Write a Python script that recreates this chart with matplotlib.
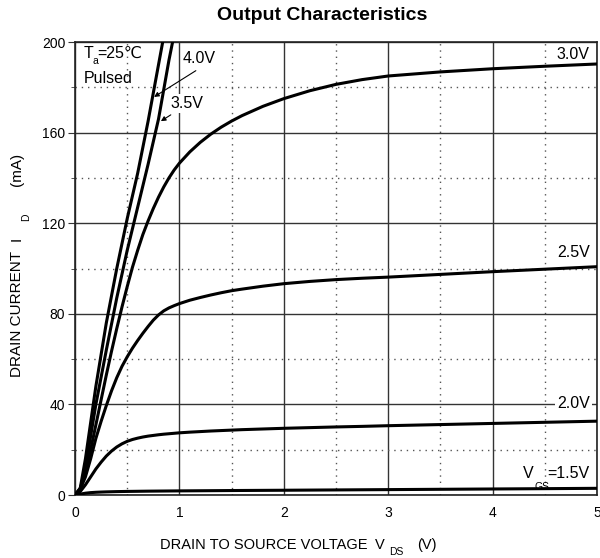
import matplotlib
matplotlib.use("Agg")
import matplotlib.pyplot as plt
from matplotlib.ticker import MultipleLocator

plt.rcParams['font.family'] = ['Liberation Sans', 'DejaVu Sans']

# drain-source voltage sample points (V)
vds = [0, 0.05, 0.1, 0.15, 0.2, 0.25, 0.3, 0.35, 0.4, 0.45, 0.5, 0.55, 0.6,
       0.65, 0.7, 0.75, 0.8, 0.85, 0.9, 0.95, 1.0, 1.1, 1.2, 1.3, 1.4, 1.5,
       1.6, 1.8, 2.0, 2.25, 2.5, 2.75, 3.0, 3.5, 4.0, 4.5, 5.0]
# drain current (mA) per gate voltage
id_15 = [0, 0.4, 0.8, 1.05, 1.2, 1.3, 1.38, 1.44, 1.5, 1.54, 1.58, 1.61, 1.64,
         1.67, 1.7, 1.72, 1.74, 1.76, 1.78, 1.8, 1.82, 1.85, 1.88, 1.91, 1.94, 1.97,
         2.0, 2.05, 2.1, 2.17, 2.24, 2.31, 2.38, 2.52, 2.66, 2.8, 2.95]
id_20 = [0, 1.5, 4.5, 8, 11.5, 14.5, 17.2, 19.4, 21.2, 22.6, 23.7, 24.5, 25.1,
         25.6, 26, 26.3, 26.6, 26.85, 27.05, 27.25, 27.45, 27.75, 28.0, 28.25, 28.45, 28.65,
         28.85, 29.15, 29.45, 29.75, 30.05, 30.3, 30.6, 31.1, 31.6, 32.1, 32.6]
id_25 = [0, 2.5, 8, 16, 25, 32.5, 39.5, 46, 51.8, 56.8, 61, 64.8, 68.2,
         71.4, 74.4, 77.2, 79.5, 81.3, 82.6, 83.6, 84.5, 86, 87.2, 88.3, 89.3, 90.2,
         90.9, 92.2, 93.3, 94.3, 95.1, 95.7, 96.2, 97.4, 98.6, 99.7, 100.8]
id_30 = [0, 3, 10, 20, 31, 42, 53, 63.5, 73.5, 83, 92, 100.5, 108,
         115, 121, 126.5, 131.5, 136, 140, 143.5, 146.5, 151.5, 155.7, 159.3, 162.4, 165.1,
         167.5, 171.6, 175.0, 178.5, 181.3, 183.4, 185.0, 186.8, 188.2, 189.3, 190.3]
# steep curves only need their lower part
vds_hi = [0, 0.05, 0.1, 0.15, 0.2, 0.25, 0.3, 0.4, 0.5, 0.6, 0.7, 0.8, 0.9, 1.0]
id_35 = [0, 2, 12, 26, 40, 52, 64, 87, 108, 127, 146, 166, 192, 215]
id_40 = [0, 3, 16, 32, 48, 62, 76, 100, 122, 142, 165, 190, 215, 240]

x_ticks = [0, 1, 2, 3, 4, 5]
y_ticks = [0, 40, 80, 120, 160, 200]

fig = plt.figure(figsize=(6, 5.58), dpi=100)
ax = fig.add_axes([0.125, 0.1129, 0.87, 0.8118])

ax.set_xlim(0, 5)
ax.set_ylim(0, 200)
ax.set_xticks(x_ticks)
ax.set_yticks(y_ticks)
ax.xaxis.set_minor_locator(MultipleLocator(0.5))
ax.yaxis.set_minor_locator(MultipleLocator(20))
ax.tick_params(axis='both', which='both', labelsize=10, color='#333333')
ax.tick_params(axis='x', which='both', length=0, pad=8)
ax.tick_params(axis='y', which='major', length=5, direction='out', pad=2)
ax.tick_params(axis='y', which='minor', length=3, direction='out')

ax.grid(which='major', color='#333333', lw=1.0)
ax.grid(which='minor', color='#555555', lw=1.0, ls=(0, (1, 3.5)))
ax.set_axisbelow(True)
for sp in ax.spines.values():
    sp.set_linewidth(1.2)
    sp.set_color('#222222')

for vx, iy in [(vds, id_15), (vds, id_20), (vds, id_25), (vds, id_30),
               (vds_hi, id_35), (vds_hi, id_40)]:
    ax.plot(vx, iy, color='black', lw=2.2, solid_joinstyle='round', zorder=3)

lbl = dict(fontsize=11.5, zorder=4)
wbox = dict(facecolor='white', edgecolor='none', pad=1.5)
ax.text(4.93, 194.5, '3.0V', ha='right', va='center', **lbl)
ax.text(4.93, 107, '2.5V', ha='right', va='center', **lbl)
ax.text(4.93, 40.6, '2.0V', ha='right', va='center', bbox=wbox, **lbl)
ax.text(4.93, 9.7, '=1.5V', ha='right', va='center', **lbl)
ax.text(4.39, 9.7, 'V', ha='right', va='center', **lbl)
ax.text(4.40, 3.6, 'GS', ha='left', va='center', fontsize=7.5, zorder=4)

ax.text(1.035, 192.8, '4.0V', ha='left', va='center', bbox=wbox, **lbl)
ax.text(0.91, 173, '3.5V', ha='left', va='center', bbox=wbox, **lbl)
arr = dict(arrowstyle='-|>', color='black', lw=0.8, mutation_scale=7)
ax.annotate('', xy=(0.735, 175.1), xytext=(1.18, 188), arrowprops=arr, zorder=5)
ax.annotate('', xy=(0.80, 164.4), xytext=(0.94, 168.5), arrowprops=arr, zorder=5)

ax.text(0.08, 195, 'T', ha='left', va='center', **lbl)
ax.text(0.168, 191.5, 'a', ha='left', va='center', fontsize=7.5, zorder=4)
ax.text(0.21, 195, '=25\u2103', ha='left', va='center', **lbl)
ax.text(0.08, 184, 'Pulsed', ha='left', va='center', **lbl)

fig.text(322 / 600, 1 - 16 / 558, 'Output Characteristics', ha='center',
         va='center', fontsize=14, fontweight='bold')

# x axis label in pieces (subscript sits low)
yx = 1 - 545 / 558
fig.text(160 / 600, yx, 'DRAIN TO SOURCE VOLTAGE', ha='left', va='center', fontsize=10.5)
fig.text(375 / 600, yx, 'V', ha='left', va='center', fontsize=10.5)
fig.text(389 / 600, yx - 0.013, 'DS', ha='left', va='center', fontsize=7.5)
fig.text(417 / 600, yx, '(V)', ha='left', va='center', fontsize=10.5)

# y axis label in pieces
xy = 17 / 600
fig.text(xy, 1 - 377 / 558, 'DRAIN CURRENT', rotation=90, ha='center', va='bottom', fontsize=11)
fig.text(xy, 1 - 241 / 558, 'I', rotation=90, ha='center', va='bottom', fontsize=11)
fig.text(xy + 0.016, 1 - 221 / 558, 'D', rotation=90, ha='center', va='bottom', fontsize=7.5)
fig.text(xy, 1 - 186 / 558, '(mA)', rotation=90, ha='center', va='bottom', fontsize=11)

fig.savefig('out.png', dpi=100)
